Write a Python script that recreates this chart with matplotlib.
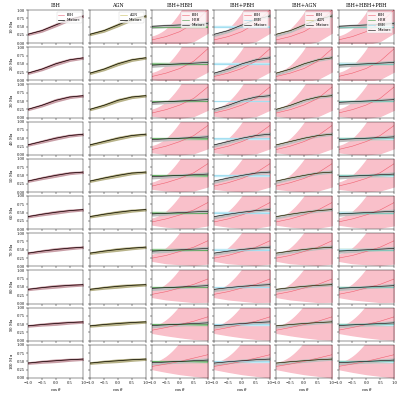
import numpy as np
import matplotlib
matplotlib.use("Agg")
import matplotlib.pyplot as plt

plt.rcParams['font.family'] = 'DejaVu Serif'
plt.rcParams['font.size'] = 2.6

col_titles = ["IBH", "AGN", "IBH+HBH", "IBH+PBH", "IBH+AGN", "IBH+HBH+PBH"]
row_labels = ["10 M$_\\odot$", "20 M$_\\odot$", "30 M$_\\odot$", "40 M$_\\odot$", "50 M$_\\odot$",
              "60 M$_\\odot$", "70 M$_\\odot$", "80 M$_\\odot$", "90 M$_\\odot$", "100 M$_\\odot$"]
xk = [-1.0, -0.5, 0.0, 0.5, 1.0]
ibh = [
    [0.27, 0.38, 0.55, 0.72, 0.82],
    [0.22, 0.34, 0.50, 0.62, 0.68],
    [0.25, 0.37, 0.52, 0.62, 0.66],
    [0.30, 0.40, 0.50, 0.58, 0.62],
    [0.33, 0.42, 0.50, 0.57, 0.60],
    [0.38, 0.45, 0.51, 0.56, 0.59],
    [0.40, 0.46, 0.51, 0.55, 0.58],
    [0.43, 0.48, 0.52, 0.55, 0.57],
    [0.45, 0.49, 0.52, 0.55, 0.57],
    [0.45, 0.49, 0.52, 0.55, 0.57],
]
red = [
    [0.10, 0.20, 0.35, 0.60, 1.00],
    [0.12, 0.22, 0.36, 0.58, 0.95],
    [0.14, 0.24, 0.38, 0.58, 0.92],
    [0.16, 0.26, 0.40, 0.58, 0.88],
    [0.18, 0.28, 0.41, 0.58, 0.85],
    [0.22, 0.31, 0.43, 0.58, 0.80],
    [0.25, 0.33, 0.45, 0.58, 0.77],
    [0.28, 0.36, 0.47, 0.58, 0.74],
    [0.32, 0.40, 0.49, 0.59, 0.72],
    [0.35, 0.42, 0.50, 0.60, 0.70],
]
hbh_level = 0.50
pbh_level = 0.50
mix_flat = [0.55, 0.50, 0.50, 0.50, 0.50, 0.50, 0.50, 0.50, 0.50, 0.50]

x = np.linspace(-1, 1, 100)
fig, axes = plt.subplots(10, 6, figsize=(4, 4), dpi=100, sharex=True, sharey=True)
fig.subplots_adjust(left=0.07, right=0.985, top=0.975, bottom=0.055, wspace=0.12, hspace=0.12)
PINK = '#f9c0ca'
for r in range(10):
    yi = np.interp(x, xk, ibh[r])
    yr = np.interp(x, xk, red[r])
    bw = 0.02 + 0.015 * (1 - abs(x))
    for c in range(6):
        ax = axes[r, c]
        ax.set_xlim(-1, 1); ax.set_ylim(0, 1)
        ax.set_yticks([0, 0.25, 0.5, 0.75, 1.0])
        ax.set_xticks([-1, -0.5, 0, 0.5, 1])
        ax.tick_params(length=1.2, width=0.3, pad=0.8, labelsize=2.6)
        for s in ax.spines.values():
            s.set_linewidth(0.3)
        if c == 0:
            ax.fill_between(x, yi - bw, yi + bw, color='#c9a0a8')
            ax.plot(x, yi, color='#e8657a', lw=0.4, label='IBH')
            ax.plot(x, yi, color='k', lw=0.5, label='Mixture')
        elif c == 1:
            ax.fill_between(x, yi - bw, yi + bw, color='#b8b38a')
            ax.plot(x, yi, color='#c8c060', lw=0.4, label='AGN')
            ax.plot(x, yi, color='k', lw=0.5, label='Mixture')
        else:
            lo = np.clip(yr - 0.08 - 0.3 * (x + 1), 0, 1)
            hi = yr + 0.1 + 0.45 * (x + 1) ** 2
            ax.fill_between(x, lo, hi, color=PINK)
            ax.plot(x, yr, color='#f06070', lw=0.4, label='IBH')
            if c in (2, 5):
                ax.axhspan(hbh_level - 0.01, hbh_level + 0.01, color='#8fc98f')
                ax.plot(x, np.full_like(x, hbh_level), color='#3a9a3a', lw=0.4, label='HBH')
            if c in (3, 5):
                ax.axhspan(pbh_level - 0.012, pbh_level + 0.012, color='#bfe9f5')
                ax.plot(x, np.full_like(x, pbh_level), color='#8fd8ee', lw=0.4, label='PBH')
            if c == 4:
                ax.plot(x, yi, color='#c8c060', lw=0.4, label='AGN')
            if c in (3, 4):
                ym = yi
            else:
                ym = mix_flat[r] + 0.04 * x
            ax.fill_between(x, ym - 0.015 - 0.03 * (1 - x) / 2, ym + 0.015 + 0.03 * (1 + x) / 2, color='#bdbdbd')
            ax.plot(x, ym, color='k', lw=0.4, label='Mixture')
        if r == 0:
            ax.set_title(col_titles[c], fontsize=3.5, pad=2)
            ax.legend(loc='upper right', fontsize=2.4, framealpha=0.8, handlelength=2,
                      borderpad=0.3, labelspacing=0.3, edgecolor='#cccccc').get_frame().set_linewidth(0.3)
        if c == 0:
            ax.set_ylabel(row_labels[r], fontsize=2.8, labelpad=1)
        if r == 9:
            ax.set_xlabel(r'cos$\,\theta$', fontsize=2.8, labelpad=1)
fig.savefig('out.png', dpi=100)
